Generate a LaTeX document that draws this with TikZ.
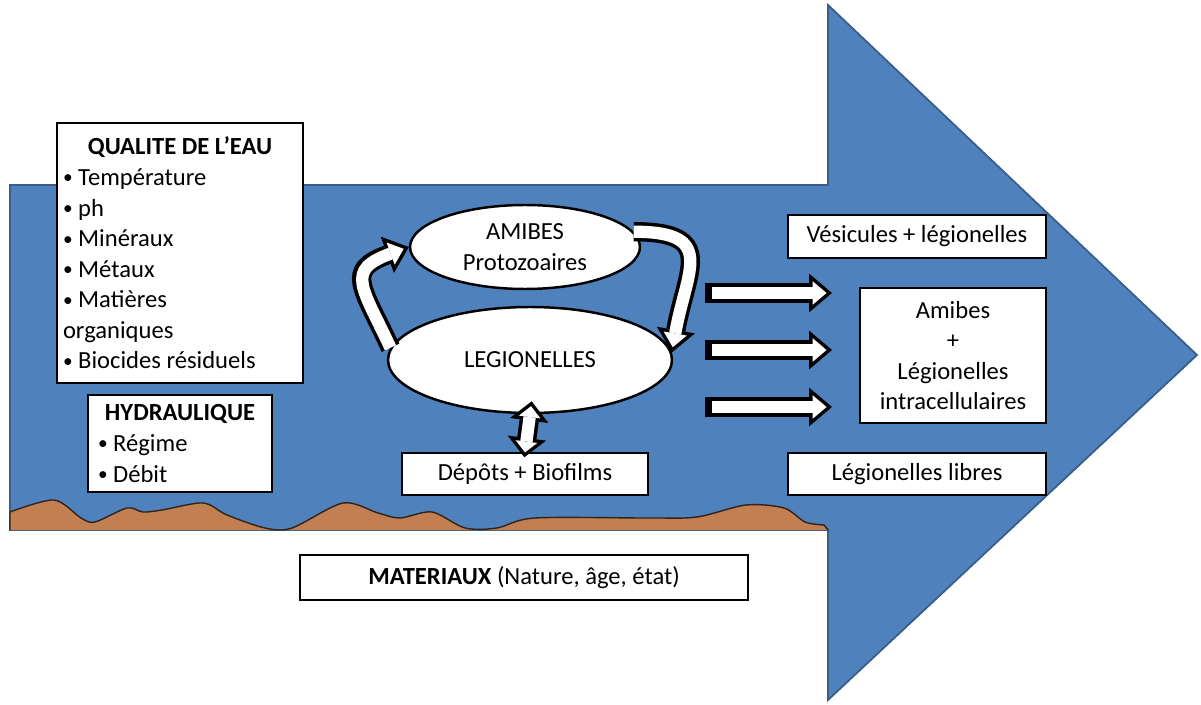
\documentclass[tikz,border=0pt]{standalone}
\usepackage{fontspec}
\setmainfont{Carlito}
\usetikzlibrary{arrows.meta,shapes.geometric}

\definecolor{flowblue}{RGB}{79,129,189}
\definecolor{flowedge}{RGB}{56,93,138}
\definecolor{sediment}{RGB}{193,127,82}
\definecolor{sedline}{RGB}{50,35,25}
\newcommand\dotitem{{\fontsize{11}{11}\selectfont\raisebox{0.08em}{•}}\ }

\begin{document}
\begin{tikzpicture}[x=0.02cm,y=0.02cm,
    font=\fontsize{14}{17.4}\selectfont,
    box/.style={draw,fill=white,line width=0.7pt,inner sep=0pt,align=center},
    list/.style={box,align=left,inner xsep=0.12cm},
    cell/.style={ellipse,draw,fill=white,line width=1.4pt,inner sep=0pt,align=center},
    fat/.style={white,line width=7pt,shorten >=3.1pt,
      -{Triangle[length=7.9pt,width=13.4pt,line width=0pt]},
      preaction={draw,black,line width=11pt,shorten >=0pt,shorten <=0pt,
        -{Triangle[length=13pt,width=22pt,line width=0pt]}}},
    fatboth/.style={white,line width=7pt,shorten <=-4.6pt,shorten >=0pt,
      {Triangle[length=6.2pt,width=12.4pt,line width=0pt]}-{Triangle[length=6.2pt,width=12.4pt,line width=0pt]},
      preaction={draw,black,line width=11pt,shorten <=-7.4pt,shorten >=-2.8pt,
        {Triangle[length=11pt,width=22pt,line width=0pt]}-{Triangle[length=11pt,width=22pt,line width=0pt]}}}]
\path[use as bounding box,fill=white] (0,0) rectangle (1201,704);

% flow arrow
\draw[fill=flowblue,draw=flowedge,line width=1pt]
  (10,174) -- (10,519) -- (828,519) -- (828,699) -- (1197,349) -- (828,4) -- (828,174) -- cycle;
% deposits on the wall
\draw[sedline,line width=0.8pt,fill=sediment] (10,174) -- plot[smooth,tension=0.5] coordinates {
  (10,192) (54,204) (81,186) (95,182) (127,196) (143,192) (162,194) (203,201) (227,189)
  (265,176) (292,176) (343,201) (378,191) (400,186) (432,192) (465,176) (497,176)
  (535,186) (649,186) (697,187) (746,199) (784,196) (805,182) (824,179)} -- (828,174);

\node[list,minimum height=5.2cm] (qual) at (180,451)
  {\makebox[4.68cm]{\textbf{QUALITE DE L’EAU}}\\\dotitem Température\\\dotitem ph\\\dotitem Minéraux\\
   \dotitem Métaux\\\dotitem Matières\\organiques\\\dotitem Biocides résiduels};
\node[list,inner xsep=0.2cm,minimum height=1.94cm,node distance=3.81cm] (hydr) [below of=qual]
  {\makebox[3.28cm]{\textbf{HYDRAULIQUE}}\\\dotitem Régime\\\dotitem Débit};

\node[cell,minimum width=4.6cm,minimum height=1.68cm] (ami) at (525,457) {AMIBES\\Protozoaires};
\node[cell,minimum width=5.68cm,minimum height=2.12cm] (leg) at (530,344) {LEGIONELLES};
\node[box,minimum width=4.92cm,minimum height=0.84cm] (dep) at (525,230) {Dépôts + Biofilms};

\node[box,minimum width=5.16cm,minimum height=0.86cm] (ves) at (917,467.5) {Vésicules + légionelles};
\node[box,minimum width=3.72cm,minimum height=2.7cm] (intra) at (953,348.5)
  {Amibes\\+\\Légionelles\\intracellulaires};
\node[box,minimum width=5.16cm,minimum height=0.84cm,node distance=4.75cm] (lib) [below of=ves]
  {Légionelles libres};
\node[box,minimum width=8.96cm,minimum height=0.9cm] (mat) at (524,126.5)
  {\textbf{MATERIAUX} (Nature, âge, état)};

\coordinate (out_1) at (705,411); \coordinate (in_1) at (832,411);
\coordinate (out_2) at (705,354); \coordinate (in_2) at (832,354);
\coordinate (out_3) at (705,297); \coordinate (in_3) at (832,297);

\path (leg.175) edge[fat,out=115,in=200,looseness=1.7] (ami.west)
      (ami.8)   edge[fat,out=0,in=80,looseness=1.7] (leg.3)
      (out_1)   edge[fat,shorten <=4pt] (in_1)
      (out_2)   edge[fat,shorten <=4pt] (in_2)
      (out_3)   edge[fat,shorten <=4pt] (in_3)
      (leg.south) edge[fatboth] (dep.north);
\end{tikzpicture}
\end{document}
